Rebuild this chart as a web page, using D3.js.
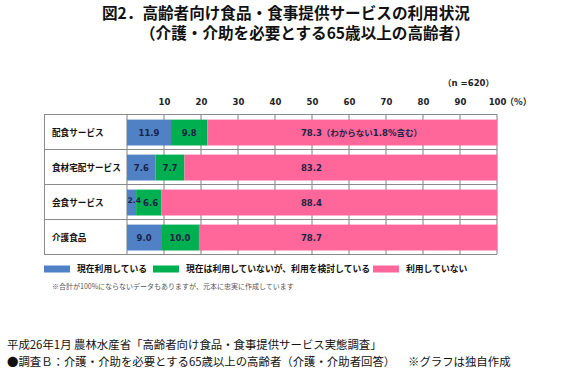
<!DOCTYPE html>
<html>
<head>
<meta charset="utf-8">
<script src="https://cdn.jsdelivr.net/npm/d3@7"></script>
<style>
  body { margin: 0; background: #fff; }
  svg { font-family: "Noto Sans CJK JP", "Noto Sans", sans-serif; }
</style>
</head>
<body>
<div id="chart"></div>
<script>
// data
const categories = ["配食サービス", "食材宅配サービス", "会食サービス", "介護食品"];
const using = [11.9, 7.6, 2.4, 9.0];
const considering = [9.8, 7.7, 6.6, 10.0];
const notUsing = [78.3, 83.2, 88.4, 78.7];
const notUsingLabels = ["78.3（わからない1.8%含む）", "83.2", "88.4", "78.7"];
const seriesNames = ["現在利用している", "現在は利用していないが、利用を検討している", "利用していない"];
const tickValues = [10, 20, 30, 40, 50, 60, 70, 80, 90, 100];

const colors = ["#4F81C4", "#00AF50", "#FF6699"];
const W = 570, H = 377;
const numFont = "\"DejaVu Sans\", \"Noto Sans CJK JP\", sans-serif";

const svg = d3.select("#chart").append("svg")
  .attr("width", W).attr("height", H)
  .attr("viewBox", `0 0 ${W} ${H}`);

// title
const title = svg.append("g")
  .attr("font-weight", "bold").attr("font-size", 15.6).attr("fill", "#111");
title.append("text").attr("x", 102).attr("y", 19)
  .text("図2．高齢者向け食品・食事提供サービスの利用状況");
title.append("text").attr("x", 140).attr("y", 39)
  .text("（介護・介助を必要とする65歳以上の高齢者）");

// scales
const x = d3.scaleLinear().domain([0, 100]).range([127, 497]);
const y = d3.scaleBand().domain(categories).range([114, 254]).padding(0);
const tableLeft = 44;

// stack, stretched so that each row fills the table
const rows = categories.map((c, i) => ({ cat: c, a: using[i], b: considering[i], c: notUsing[i] }));
const stack = d3.stack().keys(["a", "b", "c"]).offset(d3.stackOffsetExpand);
const layers = stack(rows);

// vertical grid lines
svg.append("g").selectAll("line")
  .data([0].concat(tickValues))
  .join("line")
  .attr("x1", d => x(d)).attr("x2", d => x(d))
  .attr("y1", y.range()[0]).attr("y2", y.range()[1])
  .attr("stroke", "#7f7f7f").attr("stroke-width", 1);

// bars
const barH = y.bandwidth() * 0.74;
const barOff = y.bandwidth() * 0.16;
svg.append("g").selectAll("g")
  .data(layers)
  .join("g")
  .attr("fill", (d, i) => colors[i])
  .selectAll("rect")
  .data(d => d)
  .join("rect")
  .attr("x", d => x(d[0] * 100))
  .attr("width", d => x(d[1] * 100) - x(d[0] * 100))
  .attr("y", d => y(d.data.cat) + barOff)
  .attr("height", barH);

// table lines
const tbl = svg.append("g").attr("stroke", "#8a8a8a").attr("stroke-width", 1);
tbl.selectAll("line.h")
  .data(categories.map(c => y(c)).concat([y.range()[1]]))
  .join("line")
  .attr("x1", tableLeft).attr("x2", x(100))
  .attr("y1", d => d + 0.5).attr("y2", d => d + 0.5);
tbl.append("line")
  .attr("x1", tableLeft + 0.5).attr("x2", tableLeft + 0.5)
  .attr("y1", y.range()[0]).attr("y2", y.range()[1]);

// row labels
svg.append("g").selectAll("text")
  .data(categories)
  .join("text")
  .attr("x", 52)
  .attr("y", d => y(d) + barOff + barH / 2)
  .attr("dy", "0.35em")
  .attr("font-size", 8.6).attr("font-weight", "bold").attr("fill", "#111")
  .text(d => d);

// axis tick labels on top
const axis = d3.axisTop(x).tickValues(tickValues).tickSize(0).tickFormat(d3.format("d"));
const ax = svg.append("g").attr("transform", "translate(0,108)").call(axis);
ax.select(".domain").remove();
ax.selectAll("text")
  .attr("font-size", 8.5).attr("font-weight", "bold").attr("fill", "#222")
  .style("font-family", numFont);
svg.append("text")
  .attr("x", x(100) + 8).attr("y", 108).attr("dy", "-0.3em")
  .attr("font-size", 9).attr("font-weight", "bold").attr("fill", "#222")
  .text("（%）");
svg.append("text")
  .attr("x", 494).attr("y", 86).attr("text-anchor", "end")
  .attr("font-size", 8.5).attr("font-weight", "bold").attr("fill", "#222")
  .style("font-family", numFont)
  .text("（n =620）");

// value labels
const labelColor = "#1b2348";
const valLabels = svg.append("g")
  .attr("font-size", 8.5).attr("font-weight", "bold").attr("fill", labelColor)
  .style("font-family", numFont);
layers.forEach((layer, li) => {
  layer.forEach((d, ri) => {
    const cy = y(d.data.cat) + barOff + barH / 2;
    const narrow = using[ri] < 5;
    let tx, anchor = "middle", txt, dy = "0.35em", fs = 8.5;
    if (li === 2) {
      tx = x(47); anchor = "start"; txt = notUsingLabels[ri];
    } else {
      tx = x((d[0] + d[1]) / 2 * 100);
      txt = (li === 0 ? using[ri] : considering[ri]).toFixed(1);
      if (li === 0 && narrow) { tx = x(d[0] * 100) + 0.5; anchor = "start"; dy = "0.05em"; fs = 7.6; }
      else if (li === 1 && narrow) { tx = x(d[0] * 100) + 7; anchor = "start"; }
    }
    valLabels.append("text")
      .attr("x", tx).attr("y", cy).attr("dy", dy)
      .attr("text-anchor", anchor)
      .attr("font-size", fs)
      .text(txt);
  });
});

// legend
const legendX = [44, 153, 373];
const legend = svg.append("g").attr("transform", "translate(0,269)");
seriesNames.forEach((name, i) => {
  legend.append("rect")
    .attr("x", legendX[i]).attr("y", -3.5)
    .attr("width", 26).attr("height", 7)
    .attr("fill", colors[i]);
  legend.append("text")
    .attr("x", legendX[i] + 33).attr("y", 0).attr("dy", "0.35em")
    .attr("font-size", 8.8).attr("font-weight", "bold").attr("fill", "#111")
    .text(name);
});
svg.append("text")
  .attr("x", 52).attr("y", 287).attr("dy", "0.35em")
  .attr("font-size", 7).attr("fill", "#555")
  .text("※合計が100%にならないデータもありますが、元本に忠実に作成しています");

// source notes
const src = svg.append("g").attr("font-size", 11.4).attr("fill", "#111");
src.append("text").attr("x", 7).attr("y", 345).attr("dy", "0.35em")
  .text("平成26年1月 農林水産省「高齢者向け食品・食事提供サービス実態調査」");
src.append("text").attr("x", 7).attr("y", 362).attr("dy", "0.35em")
  .text("●調査Ｂ：介護・介助を必要とする65歳以上の高齢者（介護・介助者回答）");
src.append("text").attr("x", 408).attr("y", 362).attr("dy", "0.35em")
  .text("※グラフは独自作成");
</script>
</body>
</html>
